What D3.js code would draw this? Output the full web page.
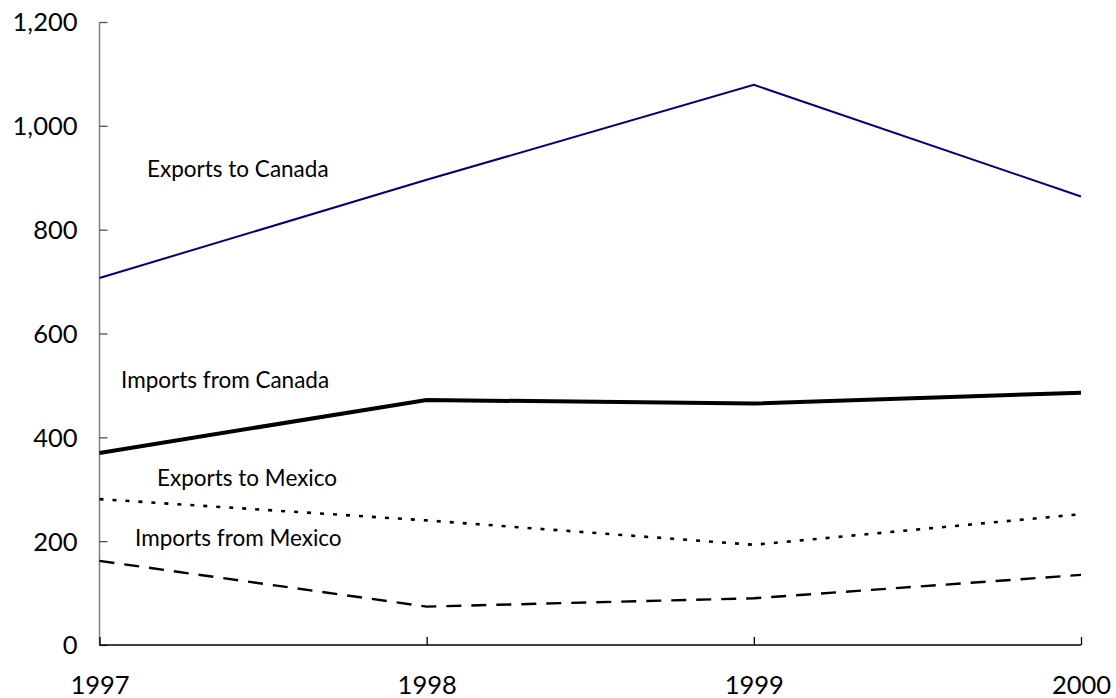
<!DOCTYPE html>
<html>
<head>
<meta charset="utf-8">
<script src="https://cdn.jsdelivr.net/npm/d3@7"></script>
<style>
  html, body { margin: 0; padding: 0; background: #fff; }
  svg { display: block; }
  text { font-family: "Lato", "DejaVu Sans", sans-serif; fill: #000; }
</style>
</head>
<body>
<svg id="chart" width="1116" height="698"></svg>
<script>
const years = [1997, 1998, 1999, 2000];
const exportsToCanada = [707, 896, 1079, 864];
const importsFromCanada = [370, 472, 465, 486];
const exportsToMexico = [281, 240, 193, 252];
const importsFromMexico = [162, 74, 90, 135];
const yTicks = [0, 200, 400, 600, 800, 1000, 1200];
const seriesNames = ["Exports to Canada", "Imports from Canada", "Exports to Mexico", "Imports from Mexico"];

const svg = d3.select("#chart");
const x = d3.scaleLinear().domain([1997, 2000]).range([99.5, 1081]);
const y = d3.scaleLinear().domain([0, 1200]).range([645, 22]);

// y axis
const yAxis = svg.append("g").attr("transform", "translate(99.5,0)")
  .call(d3.axisRight(y).tickValues(yTicks).tickSize(8).tickFormat(d3.format(",")));
yAxis.select(".domain").attr("stroke", "#808080").attr("stroke-width", 1.5).attr("d", `M0,${y(1200)}V${y(0)}`);
yAxis.selectAll(".tick line").attr("stroke", "#555").attr("stroke-width", 1.3);
yAxis.selectAll(".tick text").attr("x", -22).attr("text-anchor", "end")
  .attr("font-size", 25.5).attr("dy", "0.35em");

// x axis
const xAxis = svg.append("g").attr("transform", "translate(0,645)")
  .call(d3.axisTop(x).tickValues(years).tickSize(8).tickFormat(d3.format("d")));
xAxis.select(".domain").attr("stroke", "#000").attr("stroke-width", 1.3).attr("d", `M${x(1997)},0H${x(2000)}`);
xAxis.selectAll(".tick line").attr("stroke", "#000").attr("stroke-width", 1.3);
xAxis.selectAll(".tick text").attr("y", 49).attr("dy", 0).attr("text-anchor", "middle")
  .attr("font-size", 25.5);

const line = d3.line().x((d, i) => x(years[i])).y(d => y(d));

const styles = [
  { data: exportsToCanada, stroke: "#000080", width: 2, dash: null },
  { data: importsFromCanada, stroke: "#000", width: 4, dash: null },
  { data: exportsToMexico, stroke: "#000", width: 2.6, dash: "4,9" },
  { data: importsFromMexico, stroke: "#000", width: 2.4, dash: "15,10" }
];
styles.forEach(s => {
  svg.append("path").datum(s.data).attr("d", line)
    .attr("fill", "none").attr("stroke", s.stroke).attr("stroke-width", s.width)
    .attr("stroke-dasharray", s.dash);
});

// series labels
const labelPos = [[147, 177], [121, 388], [157, 486], [135, 546]];
seriesNames.forEach((n, i) => {
  svg.append("text").attr("x", labelPos[i][0]).attr("y", labelPos[i][1])
    .attr("font-size", 22.5).text(n);
});
</script>
</body>
</html>
